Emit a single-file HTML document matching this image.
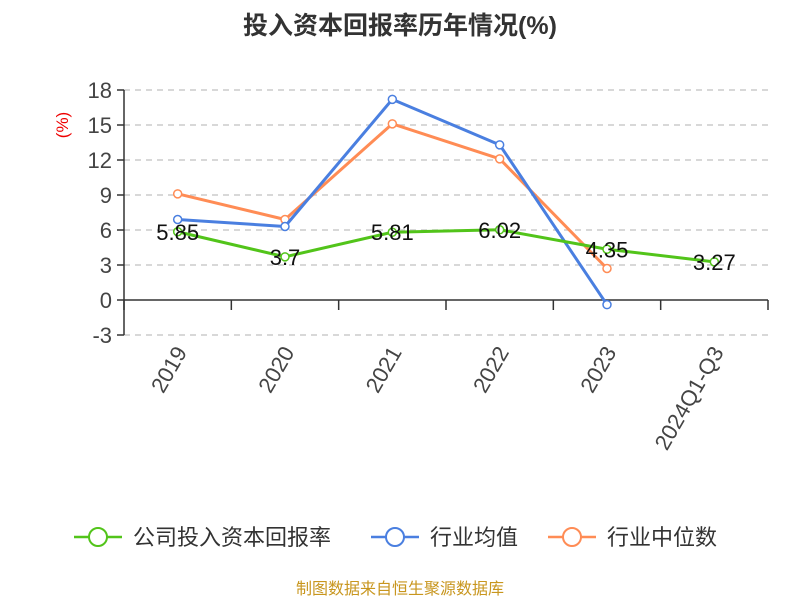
<!DOCTYPE html>
<html><head><meta charset="utf-8"><style>
body{margin:0;background:#fff;}
svg text{font-family:"Liberation Sans","Noto Sans CJK SC",sans-serif;}
</style></head><body>
<svg id="c" width="800" height="600" xmlns="http://www.w3.org/2000/svg">
<text x="400" y="34" text-anchor="middle" font-size="25" font-weight="bold" fill="#333">投入资本回报率历年情况(%)</text>
<text transform="translate(68,125) rotate(-90)" text-anchor="middle" font-size="17" fill="#e00">(%)</text>
<g id="grid"></g><g id="axes"></g><g id="series"></g>
<g font-size="22" fill="#333">
<g><line x1="74" y1="537" x2="122" y2="537" stroke="#52c41a" stroke-width="2.5"/><circle cx="98" cy="537" r="9" fill="#fff" stroke="#52c41a" stroke-width="2"/><text x="133" y="545">公司投入资本回报率</text></g>
<g><line x1="371" y1="537" x2="419" y2="537" stroke="#4a7fe0" stroke-width="2.5"/><circle cx="395" cy="537" r="9" fill="#fff" stroke="#4a7fe0" stroke-width="2"/><text x="430" y="545">行业均值</text></g>
<g><line x1="548" y1="537" x2="596" y2="537" stroke="#ff8c55" stroke-width="2.5"/><circle cx="572" cy="537" r="9" fill="#fff" stroke="#ff8c55" stroke-width="2"/><text x="607" y="545">行业中位数</text></g>
</g>
<text x="400" y="594" text-anchor="middle" font-size="16" fill="#c8961e">制图数据来自恒生聚源数据库</text>
</svg>
<script>
const categories=["2019","2020","2021","2022","2023","2024Q1-Q3"];
const companyValues=[5.85,3.7,5.81,6.02,4.35,3.27];
const avgValues=[6.9,6.3,17.2,13.3,-0.4];
const medianValues=[9.1,6.9,15.1,12.1,2.7];
const yTicks=[-3,0,3,6,9,12,15,18];
const NS="http://www.w3.org/2000/svg";
const L=124,R=768,T=90,B=335,yMin=-3,yMax=18;
const bw=(R-L)/categories.length;
const x=i=>L+bw*(i+0.5);
const y=v=>B-(v-yMin)/(yMax-yMin)*(B-T);
function mk(tag,attrs,parent){const e=document.createElementNS(NS,tag);for(const k in attrs)e.setAttribute(k,attrs[k]);parent.appendChild(e);return e;}
const grid=document.getElementById('grid'),axes=document.getElementById('axes'),ser=document.getElementById('series');
yTicks.forEach(t=>{
 if(t!==0){const g=mk('line',{x1:L,x2:R,y1:y(t),y2:y(t),stroke:'#ccc','stroke-dasharray':'6,5','stroke-width':1.5},grid);
 
 }
 const tk=mk('line',{x1:L-7,x2:L,y1:y(t),y2:y(t),stroke:'#333','stroke-width':1.5},axes);
 
 
 const tx=mk('text',{x:L-12,y:y(t)+8,'text-anchor':'end','font-size':22,fill:'#444'},axes);tx.textContent=t;
 
 
});
const ya=mk('line',{x1:L,x2:L,y1:T,y2:B,stroke:'#333','stroke-width':1.5},axes);


const xa=mk('line',{x1:L,x2:R,y1:y(0),y2:y(0),stroke:'#333','stroke-width':1.5},axes);


for(let i=0;i<=categories.length;i++){const tk=mk('line',{x1:L+bw*i,x2:L+bw*i,y1:y(0),y2:y(0)+10,stroke:'#333','stroke-width':1.5},axes);
 
 }
categories.forEach((c,i)=>{const tx=mk('text',{transform:`translate(${x(i)+10},${y(0)+52}) rotate(-60)`,'text-anchor':'end','font-size':22,fill:'#444'},axes);tx.textContent=c;
 
 });
function series(vals,color,name,labels){
 const g=mk('g',{},ser);
 
 
 mk('polyline',{points:vals.map((v,i)=>x(i)+','+y(v)).join(' '),fill:'none',stroke:color,'stroke-width':3,'stroke-linejoin':'round'},g);
 vals.forEach((v,i)=>{const p=mk('circle',{cx:x(i),cy:y(v),r:4,fill:'#fff',stroke:color,'stroke-width':1.5},g);
  
  
  if(labels){const t=mk('text',{x:x(i),y:y(v)+8,'text-anchor':'middle','font-size':22,fill:'#111'},g);t.textContent=v;
   
   }});
}
series(medianValues,'#ff8c55','industry-median-line',false);
series(avgValues,'#4a7fe0','industry-avg-line',false);
series(companyValues,'#52c41a','company-line',true);
</script>
</body></html>
